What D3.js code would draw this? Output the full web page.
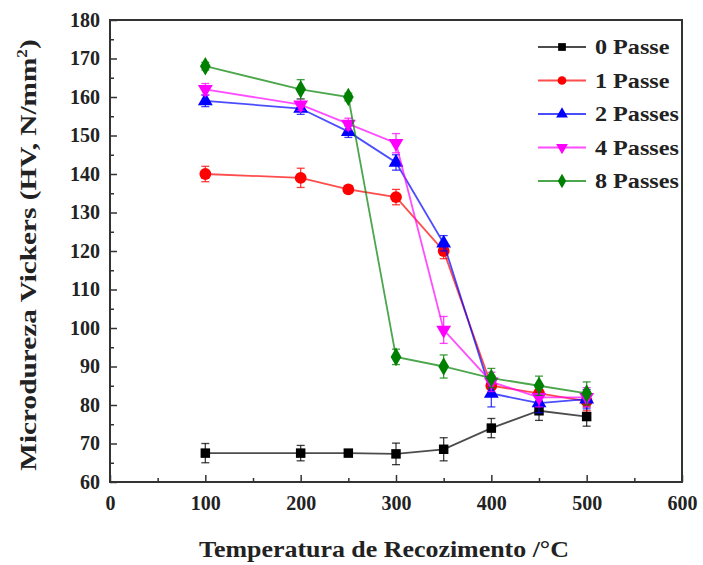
<!DOCTYPE html>
<html>
<head>
<meta charset="utf-8">
<script src="https://cdn.jsdelivr.net/npm/d3@7"></script>
<style>
  body { margin: 0; background: #fff; }
</style>
</head>
<body>
<div id="chart"></div>
<script>
// annealing temperatures (°C)
var temps = [100, 200, 250, 300, 350, 400, 450, 500];

var seriesNames = ["0 Passe", "1 Passe", "2 Passes", "4 Passes", "8 Passes"];
var seriesColors = ["#000000", "#ff0000", "#0000ff", "#ff00ff", "#008000"];
var seriesShapes = ["square", "circle", "triangle", "triangleDown", "diamond"];

// hardness values
var pass0 = [67.5, 67.5, 67.5, 67.3, 68.5, 74, 78.5, 77];
var pass1 = [140, 139, 136, 134, 120, 85, 83, 81];
var pass2 = [159, 157, 151, 143, 122, 83, 80.5, 81.5];
var pass4 = [162, 158, 153, 148, 99.5, 86, 82, 82];
var pass8 = [168, 162, 160, 92.5, 90, 87, 85, 83];

// error bar half-widths
var err0 = [2.5, 2, 0.8, 2.8, 3, 2.5, 2.5, 2.5];
var err1 = [2, 2.5, 1, 2, 2, 2.5, 2.5, 2.5];
var err2 = [1.5, 1.5, 1.5, 2, 2, 3.5, 2.5, 2.5];
var err4 = [1.5, 1.5, 1.5, 2.5, 3.5, 2.5, 2.5, 2.5];
var err8 = [1, 2.5, 1, 2, 3, 2.5, 2.5, 3];

var values = [pass0, pass1, pass2, pass4, pass8];
var errors = [err0, err1, err2, err4, err8];

var xTicks = [0, 100, 200, 300, 400, 500, 600];
var yTicks = [60, 70, 80, 90, 100, 110, 120, 130, 140, 150, 160, 170, 180];

var FONT = "'Liberation Serif', 'Times New Roman', Tinos, 'Noto Serif', 'DejaVu Serif', FreeSerif, Times, serif";

var margin = { top: 20, right: 21, bottom: 83, left: 110 },
    width = 703 - margin.left - margin.right,
    height = 565 - margin.top - margin.bottom;

var svg = d3.select("#chart")
    .append("svg")
    .attr("width", 703)
    .attr("height", 565)
    .style("font-family", FONT)
    .style("font-weight", "bold");

var g = svg.append("g")
    .attr("transform", "translate(" + margin.left + "," + margin.top + ")");

var x = d3.scaleLinear().domain([0, 600]).range([0, width]);
var y = d3.scaleLinear().domain([60, 180]).range([height, 0]);

// frame
g.append("rect")
    .attr("width", width)
    .attr("height", height)
    .attr("fill", "none")
    .attr("stroke", "#333")
    .attr("stroke-width", 2);

// x axis (ticks pointing inward)
var xAxis = g.append("g")
    .attr("transform", "translate(0," + height + ")")
    .call(d3.axisBottom(x).tickValues(xTicks).tickSize(-7).tickPadding(14).tickFormat(d3.format("d")));
xAxis.select(".domain").remove();
xAxis.selectAll("line").attr("stroke", "#333").attr("stroke-width", 1.5);
xAxis.selectAll("text").attr("font-size", 20).attr("fill", "#222")
    .style("font-family", FONT).style("font-weight", "bold");

var xMinor = g.append("g")
    .attr("transform", "translate(0," + height + ")")
    .call(d3.axisBottom(x).tickValues(d3.range(50, 600, 100)).tickSize(-4).tickFormat(""));
xMinor.select(".domain").remove();
xMinor.selectAll("line").attr("stroke", "#333").attr("stroke-width", 1.5);

// y axis
var yAxis = g.append("g")
    .call(d3.axisLeft(y).tickValues(yTicks).tickSize(-7).tickPadding(10).tickFormat(d3.format("d")));
yAxis.select(".domain").remove();
yAxis.selectAll("line").attr("stroke", "#333").attr("stroke-width", 1.5);
yAxis.selectAll("text").attr("font-size", 20).attr("fill", "#222")
    .style("font-family", FONT).style("font-weight", "bold");

var yMinor = g.append("g")
    .call(d3.axisLeft(y).tickValues(d3.range(65, 180, 10)).tickSize(-4).tickFormat(""));
yMinor.select(".domain").remove();
yMinor.selectAll("line").attr("stroke", "#333").attr("stroke-width", 1.5);

// axis titles
svg.append("text")
    .attr("transform", "translate(" + (margin.left + width / 2 - 12) + ",557) scale(1.08,1)")
    .attr("text-anchor", "middle")
    .attr("font-size", 24)
    .attr("fill", "#222")
    .text("Temperatura de Recozimento /°C");

var yTitle = svg.append("text")
    .attr("transform", "translate(36," + (margin.top + height / 2 + 4) + ") rotate(-90) scale(1.22,1)")
    .attr("text-anchor", "middle")
    .attr("font-size", 24)
    .attr("fill", "#222");
yTitle.append("tspan").text("Microdureza Vickers (HV, N/mm");
yTitle.append("tspan").attr("dy", -9).attr("font-size", 14).text("2");
yTitle.append("tspan").attr("dy", 9).text(")");

function symbolFor(shape) {
    if (shape === "square") return d3.symbol().type(d3.symbolSquare).size(90);
    if (shape === "circle") return d3.symbol().type(d3.symbolCircle).size(110);
    if (shape === "triangle") return d3.symbol().type(d3.symbolTriangle).size(95);
    if (shape === "triangleDown") return d3.symbol().type(d3.symbolTriangle).size(95);
    return d3.symbol().type(d3.symbolDiamond).size(100);
}

var line = d3.line()
    .x(function (d) { return x(d.t); })
    .y(function (d) { return y(d.v); });

values.forEach(function (vals, i) {
    var pts = temps.map(function (t, j) {
        return { t: t, v: vals[j], e: errors[i][j] };
    });
    var col = seriesColors[i];
    var sg = g.append("g");

    sg.append("path")
        .datum(pts)
        .attr("d", line)
        .attr("fill", "none")
        .attr("stroke", col)
        .attr("stroke-width", 1.8)
        .attr("stroke-opacity", 0.7);

    // error bars
    var eb = sg.selectAll(".err").data(pts).enter().append("g").attr("stroke", col).attr("stroke-width", 1.3).attr("stroke-opacity", 0.75);
    eb.append("line")
        .attr("x1", function (d) { return x(d.t); })
        .attr("x2", function (d) { return x(d.t); })
        .attr("y1", function (d) { return y(d.v - d.e); })
        .attr("y2", function (d) { return y(d.v + d.e); });
    eb.append("line")
        .attr("x1", function (d) { return x(d.t) - 4; })
        .attr("x2", function (d) { return x(d.t) + 4; })
        .attr("y1", function (d) { return y(d.v - d.e); })
        .attr("y2", function (d) { return y(d.v - d.e); });
    eb.append("line")
        .attr("x1", function (d) { return x(d.t) - 4; })
        .attr("x2", function (d) { return x(d.t) + 4; })
        .attr("y1", function (d) { return y(d.v + d.e); })
        .attr("y2", function (d) { return y(d.v + d.e); });

    // markers
    sg.selectAll(".mk").data(pts).enter().append("path")
        .attr("d", symbolFor(seriesShapes[i]))
        .attr("transform", function (d) {
            return "translate(" + x(d.t) + "," + y(d.v) + ")" + (seriesShapes[i] === "triangleDown" ? " rotate(180)" : "");
        })
        .attr("fill", col);
});

// legend
var legend = svg.append("g");
seriesNames.forEach(function (name, i) {
    var ly = 47 + i * 33.5;
    var lg = legend.append("g").attr("transform", "translate(538," + ly + ")");
    lg.append("line")
        .attr("x1", 0).attr("x2", 48)
        .attr("stroke", seriesColors[i])
        .attr("stroke-width", 1.8)
        .attr("stroke-opacity", 0.7);
    lg.append("path")
        .attr("d", symbolFor(seriesShapes[i]).size(60))
        .attr("transform", "translate(24,0)" + (seriesShapes[i] === "triangleDown" ? " rotate(180)" : ""))
        .attr("fill", seriesColors[i]);
    lg.append("text")
        .attr("transform", "translate(57,7) scale(1.15,1)")
        .attr("font-size", 21)
        .attr("fill", "#222")
        .text(name);
});
</script>
</body>
</html>
